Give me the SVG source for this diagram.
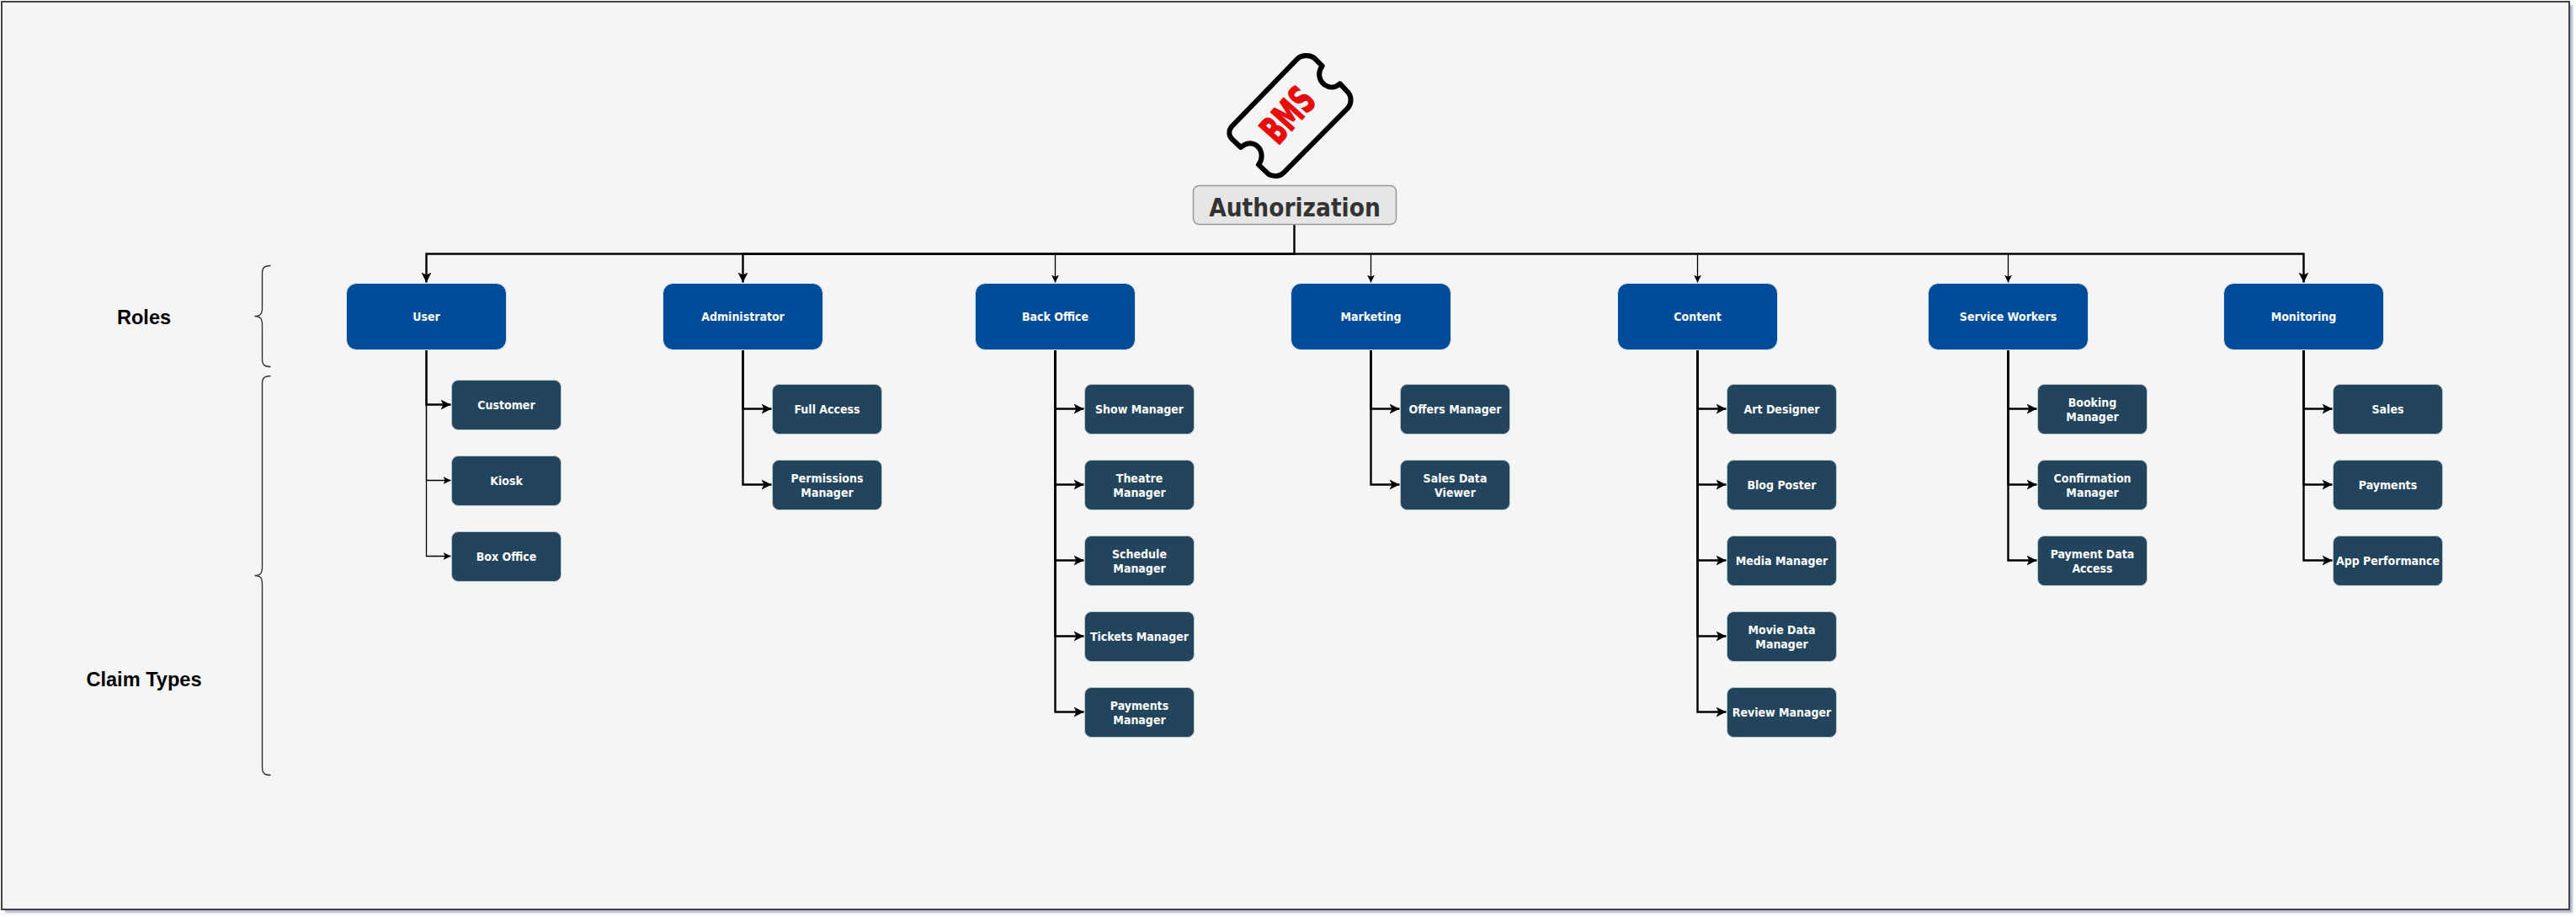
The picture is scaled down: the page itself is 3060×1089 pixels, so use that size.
<svg xmlns="http://www.w3.org/2000/svg" width="3060" height="1089" viewBox="0 0 3060 1089">
<style>
.role{fill:#004C99;stroke:#dae8fc;stroke-width:1}
.claim{fill:#23445D;stroke:#bac8d3;stroke-width:1}
.t{font-family:"DejaVu Sans",sans-serif;font-stretch:condensed;font-weight:700;fill:#fff;text-anchor:middle;font-size:14px}
.rt{transform:translateY(.5px)}
.ct{transform:translateY(1.5px)}
.side{font-family:"Liberation Sans",Arial,sans-serif;font-weight:700;font-size:23.6px;fill:#000;text-anchor:middle}
.thick{fill:none;stroke:#000;stroke-width:2.4;marker-end:url(#big)}
.thin{fill:none;stroke:#000;stroke-width:1.3;marker-end:url(#small)}
.brace{fill:none;stroke:#333;stroke-width:1.4}
</style>
<defs>
<marker id="big" markerUnits="userSpaceOnUse" markerWidth="14" markerHeight="14" refX="12" refY="6.5" orient="auto"><path d="M0 0.5L12 6.5L0 12.5L3 6.5Z" fill="#000"/></marker>
<marker id="small" markerUnits="userSpaceOnUse" markerWidth="12" markerHeight="12" refX="9" refY="5" orient="auto"><path d="M0 0.5L9 5L0 9.5L2.2 5Z" fill="#000"/></marker>
<filter id="blur" x="-1%" y="-1%" width="102%" height="102%"><feGaussianBlur stdDeviation="1"/></filter>
</defs>
<rect id="bg-shadow" x="6" y="6" width="3050" height="1078" fill="#b3b7cc" filter="url(#blur)"/>
<rect id="frame" x="2" y="2" width="3050" height="1078" fill="#f5f5f5" stroke="#444" stroke-width="2"/>

<g id="diagram" transform="translate(-.5 -.5)">
<g id="connectors">
<path class="thick" d="M1538 267V302H507V336"/>
<path class="thick" d="M1538 302H883V336"/>
<path class="thin" d="M1254 302V336"/>
<path class="thin" d="M1629 302V336"/>
<path class="thin" d="M2017 302V336"/>
<path class="thin" d="M2386 302V336"/>
<path class="thick" d="M1538 302H2737V336"/>
<path class="thick" d="M507 416V481H536"/>
<path class="thin" d="M507 416V571H536"/>
<path class="thin" d="M507 416V661H536"/>
<path class="thick" d="M883 416V486H917"/>
<path class="thick" d="M883 416V576H917"/>
<path class="thick" d="M1254 416V486H1288"/>
<path class="thick" d="M1254 416V576H1288"/>
<path class="thick" d="M1254 416V666H1288"/>
<path class="thick" d="M1254 416V756H1288"/>
<path class="thick" d="M1254 416V846H1288"/>
<path class="thick" d="M1629 416V486H1663"/>
<path class="thick" d="M1629 416V576H1663"/>
<path class="thick" d="M2017 416V486H2051"/>
<path class="thick" d="M2017 416V576H2051"/>
<path class="thick" d="M2017 416V666H2051"/>
<path class="thick" d="M2017 416V756H2051"/>
<path class="thick" d="M2017 416V846H2051"/>
<path class="thick" d="M2386 416V486H2420"/>
<path class="thick" d="M2386 416V576H2420"/>
<path class="thick" d="M2386 416V666H2420"/>
<path class="thick" d="M2737 416V486H2771"/>
<path class="thick" d="M2737 416V576H2771"/>
<path class="thick" d="M2737 416V666H2771"/>
</g>

<g id="logo" transform="translate(1400.5 30.5) scale(.33333)">
<path d="M190 360L425 118C440 105 470 105 485 118L512 145C496 165 498 195 520 212C540 226 560 222 575 208L605 240C617 255 617 280 603 295L375 525C360 540 335 540 320 530L285 497C302 475 298 445 280 430C260 415 240 420 222 435L190 405C178 392 178 375 190 360Z" fill="none" stroke="#000" stroke-width="18" stroke-linejoin="round"/>
<text transform="translate(425 352) rotate(-48)" text-anchor="middle" font-family="'DejaVu Sans',sans-serif" font-weight="700" font-size="137" textLength="212" lengthAdjust="spacingAndGlyphs" fill="#e60d0d" stroke="#e60d0d" stroke-width="5">BMS</text>
</g>

<g id="auth"><rect x="1418" y="221" width="241" height="46" rx="7" fill="#e6e6e6" stroke="#999" stroke-width="1.5"/><text x="1538.5" y="257.5" text-anchor="middle" font-family="'DejaVu Sans',sans-serif" font-stretch="condensed" font-weight="700" font-size="29.5" fill="#333">Authorization</text></g>

<g id="label-roles"><text class="side" x="171.5" y="385.5">Roles</text></g>
<g id="label-claims"><text class="side" x="171.5" y="815.5">Claim Types</text></g>
<path id="brace-roles" class="brace" d="M322 316C315 316 312 318 312 325V366C312 373 310 376 303 376C310 376 312 379 312 386V427C312 434 315 436 322 436"/>
<path id="brace-claims" class="brace" d="M322 447C315 447 312 449 312 456V674C312 681 310 684 303 684C310 684 312 687 312 694V912C312 919 315 921 322 921"/>

<g id="role-user"><rect class="role" x="412" y="337" width="190" height="79" rx="12"/><text class="t rt" x="507" y="381">User</text></g>
<g id="role-admin"><rect class="role" x="788" y="337" width="190" height="79" rx="12"/><text class="t rt" x="883" y="381">Administrator</text></g>
<g id="role-backoffice"><rect class="role" x="1159" y="337" width="190" height="79" rx="12"/><text class="t rt" x="1254" y="381">Back Office</text></g>
<g id="role-marketing"><rect class="role" x="1534" y="337" width="190" height="79" rx="12"/><text class="t rt" x="1629" y="381">Marketing</text></g>
<g id="role-content"><rect class="role" x="1922" y="337" width="190" height="79" rx="12"/><text class="t rt" x="2017" y="381">Content</text></g>
<g id="role-service"><rect class="role" x="2291" y="337" width="190" height="79" rx="12"/><text class="t rt" x="2386" y="381">Service Workers</text></g>
<g id="role-monitoring"><rect class="role" x="2642" y="337" width="190" height="79" rx="12"/><text class="t rt" x="2737" y="381">Monitoring</text></g>

<g id="c-customer"><rect class="claim" x="537" y="452" width="130" height="59" rx="8"/><text class="t ct" x="602" y="485">Customer</text></g>
<g id="c-kiosk"><rect class="claim" x="537" y="542" width="130" height="59" rx="8"/><text class="t ct" x="602" y="575">Kiosk</text></g>
<g id="c-boxoffice"><rect class="claim" x="537" y="632" width="130" height="59" rx="8"/><text class="t ct" x="602" y="665">Box Office</text></g>

<g id="c-fullaccess"><rect class="claim" x="918" y="457" width="130" height="59" rx="8"/><text class="t ct" x="983" y="490">Full Access</text></g>
<g id="c-permissions"><rect class="claim" x="918" y="547" width="130" height="59" rx="8"/><text class="t ct"><tspan x="983" y="572">Permissions</tspan><tspan x="983" y="589">Manager</tspan></text></g>

<g id="c-show"><rect class="claim" x="1289" y="457" width="130" height="59" rx="8"/><text class="t ct" x="1354" y="490">Show Manager</text></g>
<g id="c-theatre"><rect class="claim" x="1289" y="547" width="130" height="59" rx="8"/><text class="t ct"><tspan x="1354" y="572">Theatre</tspan><tspan x="1354" y="589">Manager</tspan></text></g>
<g id="c-schedule"><rect class="claim" x="1289" y="637" width="130" height="59" rx="8"/><text class="t ct"><tspan x="1354" y="662">Schedule</tspan><tspan x="1354" y="679">Manager</tspan></text></g>
<g id="c-tickets"><rect class="claim" x="1289" y="727" width="130" height="59" rx="8"/><text class="t ct" x="1354" y="760">Tickets Manager</text></g>
<g id="c-payments-bo"><rect class="claim" x="1289" y="817" width="130" height="59" rx="8"/><text class="t ct"><tspan x="1354" y="842">Payments</tspan><tspan x="1354" y="859">Manager</tspan></text></g>

<g id="c-offers"><rect class="claim" x="1664" y="457" width="130" height="59" rx="8"/><text class="t ct" x="1729" y="490">Offers Manager</text></g>
<g id="c-salesdata"><rect class="claim" x="1664" y="547" width="130" height="59" rx="8"/><text class="t ct"><tspan x="1729" y="572">Sales Data</tspan><tspan x="1729" y="589">Viewer</tspan></text></g>

<g id="c-art"><rect class="claim" x="2052" y="457" width="130" height="59" rx="8"/><text class="t ct" x="2117" y="490">Art Designer</text></g>
<g id="c-blog"><rect class="claim" x="2052" y="547" width="130" height="59" rx="8"/><text class="t ct" x="2117" y="580">Blog Poster</text></g>
<g id="c-media"><rect class="claim" x="2052" y="637" width="130" height="59" rx="8"/><text class="t ct" x="2117" y="670">Media Manager</text></g>
<g id="c-movie"><rect class="claim" x="2052" y="727" width="130" height="59" rx="8"/><text class="t ct"><tspan x="2117" y="752">Movie Data</tspan><tspan x="2117" y="769">Manager</tspan></text></g>
<g id="c-review"><rect class="claim" x="2052" y="817" width="130" height="59" rx="8"/><text class="t ct" x="2117" y="850">Review Manager</text></g>

<g id="c-booking"><rect class="claim" x="2421" y="457" width="130" height="59" rx="8"/><text class="t ct"><tspan x="2486" y="482">Booking</tspan><tspan x="2486" y="499">Manager</tspan></text></g>
<g id="c-confirmation"><rect class="claim" x="2421" y="547" width="130" height="59" rx="8"/><text class="t ct"><tspan x="2486" y="572">Confirmation</tspan><tspan x="2486" y="589">Manager</tspan></text></g>
<g id="c-paymentdata"><rect class="claim" x="2421" y="637" width="130" height="59" rx="8"/><text class="t ct"><tspan x="2486" y="662">Payment Data</tspan><tspan x="2486" y="679">Access</tspan></text></g>

<g id="c-sales"><rect class="claim" x="2772" y="457" width="130" height="59" rx="8"/><text class="t ct" x="2837" y="490">Sales</text></g>
<g id="c-payments"><rect class="claim" x="2772" y="547" width="130" height="59" rx="8"/><text class="t ct" x="2837" y="580">Payments</text></g>
<g id="c-appperf"><rect class="claim" x="2772" y="637" width="130" height="59" rx="8"/><text class="t ct" x="2837" y="670">App Performance</text></g>
</g>
</svg>
